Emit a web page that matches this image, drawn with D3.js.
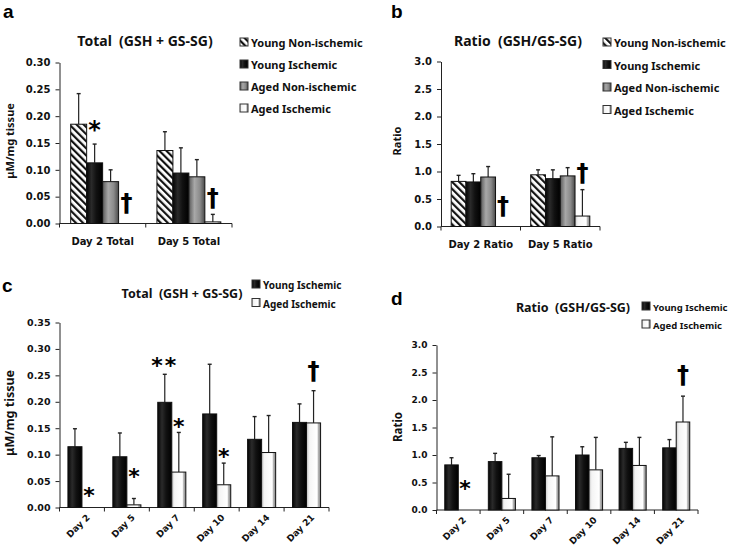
<!DOCTYPE html>
<html><head><meta charset="utf-8">
<script src="https://cdn.jsdelivr.net/npm/d3@7"></script>
<style>body{margin:0;background:#fff}svg{display:block}text{white-space:pre}</style>
</head><body><svg id="c" width="734" height="548"></svg>
<script>
// ---------- data ----------
const seriesAB = ["Young Non-ischemic","Young Ischemic","Aged Non-ischemic","Aged Ischemic"];
const catsA = ["Day 2 Total","Day 5 Total"];
const catsB = ["Day 2 Ratio","Day 5 Ratio"];
// panel a: total (means, SD)
const aYoungNon = [0.185,0.136], aYoungNonSd = [0.057,0.035];
const aYoungIsc = [0.113,0.094], aYoungIscSd = [0.035,0.047];
const aAgedNon  = [0.078,0.087], aAgedNonSd  = [0.022,0.032];
const aAgedIsc  = [0.000,0.003], aAgedIscSd  = [0.000,0.014];
// panel b: ratio
const bYoungNon = [0.82,0.94], bYoungNonSd = [0.11,0.09];
const bYoungIsc = [0.81,0.87], bYoungIscSd = [0.15,0.16];
const bAgedNon  = [0.90,0.92], bAgedNonSd  = [0.19,0.15];
const bAgedIsc  = [0.00,0.19], bAgedIscSd  = [0.00,0.48];
// panels c, d: time course
const seriesCD = ["Young Ischemic","Aged Ischemic"];
const days = ["Day 2","Day 5","Day 7","Day 10","Day 14","Day 21"];
const cYoung = [0.115,0.096,0.199,0.177,0.129,0.161], cYoungSd = [0.034,0.045,0.053,0.094,0.043,0.035];
const cAged  = [0.000,0.005,0.067,0.043,0.104,0.160], cAgedSd  = [0.000,0.012,0.075,0.041,0.070,0.061];
const dYoung = [0.82,0.88,0.95,1.00,1.12,1.13], dYoungSd = [0.13,0.15,0.04,0.15,0.11,0.15];
const dAged  = [0.00,0.21,0.62,0.73,0.81,1.60], dAgedSd  = [0.00,0.44,0.71,0.59,0.51,0.47];
// tick labels
const ticksA = [0,0.05,0.10,0.15,0.20,0.25,0.30];
const ticksB = [0,0.5,1.0,1.5,2.0,2.5,3.0];
const ticksC = [0,0.05,0.10,0.15,0.20,0.25,0.30,0.35];
// significance marks: [category index, series index, value, symbol]
const marksA = [[0,1,0.185,"*"],[0,3,0.038,"†"],[1,3,0.047,"†"]];
const marksB = [[0,3,0.36,"†"],[1,3,0.97,"†"]];
const marksC = [[0,1,0.033,"*"],[1,1,0.068,"*"],[2,0,0.279,"**"],[2,1,0.163,"*"],[3,1,0.106,"*"],[5,1,0.257,"†"]];
const marksD = [[0,1,0.485,"*"],[5,1,2.44,"†"]];

// ---------- drawing ----------
const svg = d3.select("#c");
const defs = svg.append("defs");
function grad(id, stops){
  const g = defs.append("linearGradient").attr("id",id).attr("x1","0").attr("x2","1").attr("y1","0").attr("y2","0");
  stops.forEach(([o,c])=>g.append("stop").attr("offset",o).attr("stop-color",c));
}
grad("gYI",[[0,"#050505"],[0.3,"#2a2a2a"],[0.6,"#111"],[1,"#000"]]);
grad("gAN",[[0,"#5a5a5a"],[0.35,"#a8a8a8"],[0.7,"#8a8a8a"],[1,"#4a4a4a"]]);
grad("gAI",[[0,"#c8c8c8"],[0.2,"#f4f4f4"],[0.75,"#ffffff"],[0.85,"#b0b0b0"],[1,"#8a8a8a"]]);
const pat = defs.append("pattern").attr("id","hatch").attr("patternUnits","userSpaceOnUse")
  .attr("width",5).attr("height",5).attr("patternTransform","rotate(-45)");
pat.append("rect").attr("width",5).attr("height",5).attr("fill","#fff");
pat.append("rect").attr("width",2.2).attr("height",5).attr("fill","#111");
const fillsAB = ["url(#hatch)","url(#gYI)","url(#gAN)","url(#gAI)"];
const fillsCD = ["url(#gYI)","url(#gAI)"];

const numFont = "'DejaVu Sans', Verdana, sans-serif";
const txtFont = "'Noto Sans', 'Open Sans', sans-serif";

function panel(o){
  const g = svg.append("g");
  const x = d3.scaleBand().domain(o.cats).range([o.x0,o.x1]).paddingInner(0).paddingOuter(0);
  const xi = d3.scaleBand().domain(d3.range(o.series.length)).range([0,x.bandwidth()]).paddingInner(0).paddingOuter(o.outer);
  const y = d3.scaleLinear().domain([0,o.ymax]).range([o.y0,o.y1]);
  // y axis
  const ya = d3.axisLeft(y).tickValues(o.ticks).tickSize(4).tickSizeOuter(0).tickFormat(d3.format(o.fmt));
  const yg = g.append("g").attr("transform",`translate(${o.x0},0)`).call(ya);
  yg.selectAll("text").attr("font-family",numFont).attr("font-weight","bold").attr("font-size",o.tickFs).attr("fill","#111").attr("dx",-2);
  yg.selectAll("line,path").attr("stroke","#222");
  // x axis line + boundary ticks
  g.append("line").attr("x1",o.x0).attr("x2",o.x1).attr("y1",o.y0).attr("y2",o.y0).attr("stroke","#222");
  const bounds = o.cats.map(c=>x(c)).concat([o.x1]);
  g.selectAll(".xt").data(bounds).join("line").attr("x1",d=>d).attr("x2",d=>d).attr("y1",o.y0).attr("y2",o.y0+4).attr("stroke","#222");
  // bars
  o.values.forEach((vals,si)=>{
    vals.forEach((v,ci)=>{
      const bx = x(o.cats[ci])+xi(si);
      const bw = xi.bandwidth();
      const sd = o.sds[si][ci];
      if (sd>0){
        const cx = bx+bw/2;
        g.append("line").attr("x1",cx).attr("x2",cx).attr("y1",y(v)).attr("y2",y(v+sd)).attr("stroke","#222").attr("stroke-width",1.2);
        g.append("line").attr("x1",cx-2).attr("x2",cx+2).attr("y1",y(v+sd)).attr("y2",y(v+sd)).attr("stroke","#222").attr("stroke-width",1.4);
      }
      if (v>0){
        g.append("rect").attr("x",bx).attr("y",y(v)).attr("width",bw).attr("height",o.y0-y(v))
          .attr("fill",o.fills[si]).attr("stroke","#111").attr("stroke-width",1);
      }
    });
  });
  // x labels
  if (o.rotate){
    o.cats.forEach(c=>{
      const cx = x(c)+x.bandwidth()/2;
      g.append("text").attr("transform",`translate(${cx+4},${o.y0+6}) rotate(-45)`).attr("text-anchor","end")
        .attr("dy","0.7em").attr("font-family",numFont).attr("font-weight","bold").attr("font-size",o.xFs).attr("fill","#111").text(c);
    });
  } else {
    o.cats.forEach(c=>{
      g.append("text").attr("x",x(c)+x.bandwidth()/2).attr("y",o.y0+21).attr("text-anchor","middle")
        .attr("font-family",numFont).attr("font-weight","bold").attr("font-size",o.xFs).attr("fill","#111").text(c);
    });
  }
  // marks
  o.marks.forEach(([ci,si,val,sym])=>{
    const cx = x(o.cats[ci]) + xi(si) + xi.bandwidth()/2;
    const isStar = sym.indexOf("*")>=0;
    g.append("text").attr("x",cx).attr("y",y(val)).attr("text-anchor","middle")
      .attr("dy", isStar? "0.57em":"0.31em")
      .attr("letter-spacing", isStar && sym.length>1 ? 2 : 0)
      .attr("font-family", numFont).attr("font-weight","bold")
      .attr("font-size", isStar? o.starFs : o.dagFs).attr("fill","#000").text(sym);
  });
  // title
  g.append("text").attr("x",o.tx).attr("y",o.ty).attr("text-anchor","middle").attr("font-family",txtFont)
    .attr("font-weight","bold").attr("font-size",o.titleFs).attr("fill","#111").text(o.title);
  // y label
  g.append("text").attr("transform",`translate(${o.lx},${o.ly}) rotate(-90)`).attr("text-anchor","middle")
    .attr("font-family",txtFont).attr("font-weight","bold").attr("font-size",o.labFs).attr("fill","#111").text(o.ylab);
  // legend
  o.series.forEach((s,i)=>{
    const ly = o.legY + i*o.legStep;
    g.append("rect").attr("x",o.legX).attr("y",ly-o.legBox+1).attr("width",o.legBox-1).attr("height",o.legBox-1)
      .attr("fill",o.fills[i]).attr("stroke","#333").attr("stroke-width",1);
    g.append("text").attr("x",o.legX+o.legBox+2).attr("y",ly+1).attr("font-family",txtFont).attr("font-weight","bold")
      .attr("font-size",o.legFs).attr("fill","#111").text(s);
  });
  // panel letter
  g.append("text").attr("x",o.px).attr("y",o.py).attr("font-family","'Liberation Sans', Arial, sans-serif")
    .attr("font-weight","bold").attr("font-size",19).attr("fill","#000").text(o.letter);
}

panel({letter:"a",px:3,py:18,cats:catsA,series:seriesAB,fills:fillsAB,
  values:[aYoungNon,aYoungIsc,aAgedNon,aAgedIsc],sds:[aYoungNonSd,aYoungIscSd,aAgedNonSd,aAgedIscSd],
  x0:59.5,x1:232,y0:223.5,y1:62.5,ymax:0.30,ticks:ticksA,fmt:".2f",outer:0.7,
  tickFs:10,xFs:10,marks:marksA,starFs:24,dagFs:24,
  title:"Total  (GSH + GS-SG)",tx:145,ty:46,titleFs:14,ylab:"μM/mg tissue",lx:14,ly:141,labFs:11,
  legX:240,legY:46,legStep:22,legBox:9,legFs:11});
panel({letter:"b",px:391,py:18,cats:catsB,series:seriesAB,fills:fillsAB,
  values:[bYoungNon,bYoungIsc,bAgedNon,bAgedIsc],sds:[bYoungNonSd,bYoungIscSd,bAgedNonSd,bAgedIscSd],
  x0:441,x1:600,y0:226.5,y1:61.5,ymax:3.0,ticks:ticksB,fmt:".1f",outer:0.69,
  tickFs:10,xFs:10,marks:marksB,starFs:24,dagFs:24,
  title:"Ratio  (GSH/GS-SG)",tx:518,ty:46,titleFs:14,ylab:"Ratio",lx:401,ly:141,labFs:11,
  legX:603,legY:46,legStep:22.5,legBox:9,legFs:11});
panel({letter:"c",px:2,py:292,cats:days,series:seriesCD,fills:fillsCD,
  values:[cYoung,cAged],sds:[cYoungSd,cAgedSd],
  x0:59.5,x1:329,y0:507.5,y1:322.5,ymax:0.35,ticks:ticksC,fmt:".2f",outer:0.6,rotate:true,
  tickFs:9.5,xFs:9,marks:marksC,starFs:22,dagFs:24,
  title:"Total  (GSH + GS-SG)",tx:182,ty:298,titleFs:12.5,ylab:"μM/mg tissue",lx:14,ly:413,labFs:12.5,
  legX:252,legY:288,legStep:18.5,legBox:9,legFs:10});
panel({letter:"d",px:391,py:305,cats:days,series:seriesCD,fills:fillsCD,
  values:[dYoung,dAged],sds:[dYoungSd,dAgedSd],
  x0:436.5,x1:698,y0:510,y1:345,ymax:3.0,ticks:ticksB,fmt:".1f",outer:0.61,rotate:true,
  tickFs:9,xFs:9,marks:marksD,starFs:22,dagFs:24,
  title:"Ratio  (GSH/GS-SG)",tx:573,ty:312,titleFs:12.5,ylab:"Ratio",lx:402,ly:427,labFs:11.5,
  legX:642,legY:310,legStep:18,legBox:9,legFs:9.5});
</script></body></html>
